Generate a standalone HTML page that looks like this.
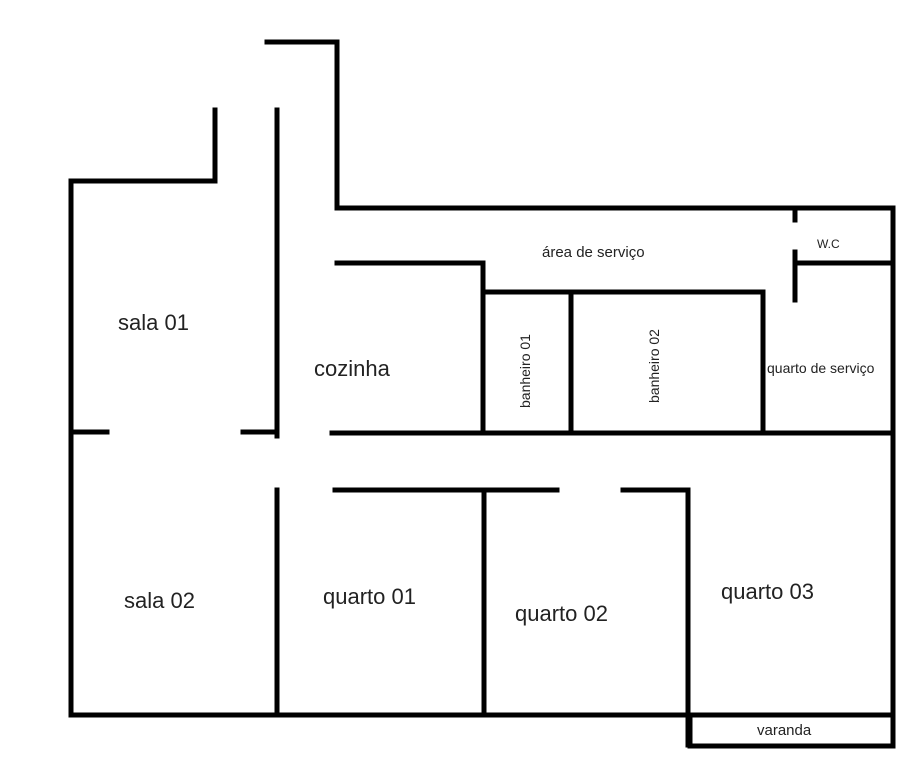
<!DOCTYPE html>
<html><head><meta charset="utf-8"><style>
html,body{margin:0;padding:0;background:#fff;width:923px;height:768px;overflow:hidden}
svg text{font-family:"Liberation Sans",sans-serif;fill:#222}
</style></head><body>
<svg width="923" height="768" viewBox="0 0 923 768" xmlns="http://www.w3.org/2000/svg">
<g stroke="#000" stroke-width="5" fill="none" stroke-linecap="square">
<polyline points="267,42 337,42 337,208 893,208 893,495"/>
<line x1="893" y1="490" x2="893" y2="745"/>
<polyline points="215,110 215,181 71,181 71,715"/>
<line x1="277" y1="110" x2="277" y2="436"/>
<line x1="71" y1="432" x2="107" y2="432"/>
<line x1="243" y1="432" x2="277" y2="432"/>
<polyline points="337,263 483,263 483,433"/>
<line x1="332" y1="433" x2="891" y2="433"/>
<polyline points="483,292 763,292 763,433"/>
<line x1="571" y1="292" x2="571" y2="433"/>
<line x1="795" y1="208" x2="795" y2="220"/>
<line x1="795" y1="252" x2="795" y2="300"/>
<line x1="795" y1="263" x2="893" y2="263"/>
<line x1="277" y1="490" x2="277" y2="715"/>
<line x1="335" y1="490" x2="557" y2="490"/>
<line x1="484" y1="490" x2="484" y2="715"/>
<polyline points="623,490 688,490 688,745"/>
<line x1="71" y1="715" x2="893" y2="715"/>
<rect x="690" y="715" width="203" height="31"/>
</g>
<text x="118" y="330" font-size="22">sala 01</text>
<text x="314" y="376" font-size="22">cozinha</text>
<text x="542" y="257" font-size="15">área de serviço</text>
<text x="817" y="248" font-size="12">W.C</text>
<text x="767" y="373" font-size="14">quarto de serviço</text>
<text transform="translate(530,408) rotate(-90)" font-size="14">banheiro 01</text>
<text transform="translate(659,403) rotate(-90)" font-size="14">banheiro 02</text>
<text x="124" y="608" font-size="22">sala 02</text>
<text x="323" y="604" font-size="22">quarto 01</text>
<text x="515" y="621" font-size="22">quarto 02</text>
<text x="721" y="599" font-size="22">quarto 03</text>
<text x="757" y="735" font-size="15">varanda</text>
</svg>
</body></html>
